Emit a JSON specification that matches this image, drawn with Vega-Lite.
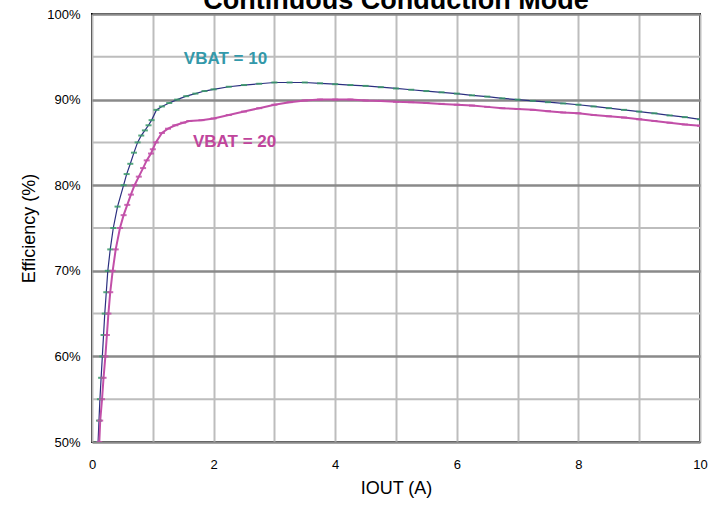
{
  "$schema": "https://vega.github.io/schema/vega-lite/v6.json",
  "autosize": {"type": "none"},
  "width": 608,
  "height": 428,
  "padding": {"left": 92, "top": 14, "right": 20, "bottom": 64},
  "background": "white",
  "title": {
    "text": "Continuous Conduction Mode",
    "font": "Liberation Sans",
    "fontSize": 27,
    "fontWeight": "bold",
    "color": "#000000",
    "anchor": "middle",
    "baseline": "alphabetic",
    "offset": 0,
    "dy": 28
  },
  "config": {
    "view": {"stroke": "#000000", "strokeWidth": 2},
    "font": "Liberation Sans"
  },
  "datasets": {
    "curves": [
      {"s":"10","i":0.10,"e":50},{"s":"10","i":0.115,"e":52.5},{"s":"10","i":0.13,"e":55},{"s":"10","i":0.15,"e":57.5},{"s":"10","i":0.17,"e":60},{"s":"10","i":0.19,"e":62.5},{"s":"10","i":0.21,"e":65},{"s":"10","i":0.235,"e":67.5},{"s":"10","i":0.26,"e":70},{"s":"10","i":0.30,"e":72.5},{"s":"10","i":0.35,"e":75},{"s":"10","i":0.42,"e":77.5},{"s":"10","i":0.52,"e":80},{"s":"10","i":0.57,"e":81.3},{"s":"10","i":0.63,"e":82.5},{"s":"10","i":0.69,"e":83.8},{"s":"10","i":0.75,"e":85},{"s":"10","i":0.81,"e":85.8},{"s":"10","i":0.87,"e":86.4},{"s":"10","i":0.93,"e":87.0},{"s":"10","i":0.98,"e":87.6},{"s":"10","i":1.06,"e":88.8},{"s":"10","i":1.15,"e":89.2},{"s":"10","i":1.27,"e":89.6},{"s":"10","i":1.4,"e":90.0},{"s":"10","i":1.55,"e":90.4},{"s":"10","i":1.7,"e":90.7},{"s":"10","i":1.85,"e":91.0},{"s":"10","i":2.0,"e":91.2},{"s":"10","i":2.25,"e":91.5},{"s":"10","i":2.5,"e":91.7},{"s":"10","i":2.75,"e":91.85},{"s":"10","i":3.0,"e":92.0},{"s":"10","i":3.25,"e":92.0},{"s":"10","i":3.5,"e":92.0},{"s":"10","i":3.75,"e":91.9},{"s":"10","i":4.0,"e":91.8},{"s":"10","i":4.25,"e":91.7},{"s":"10","i":4.5,"e":91.6},{"s":"10","i":4.75,"e":91.45},{"s":"10","i":5.0,"e":91.3},{"s":"10","i":5.25,"e":91.15},{"s":"10","i":5.5,"e":91.0},{"s":"10","i":5.75,"e":90.85},{"s":"10","i":6.0,"e":90.7},{"s":"10","i":6.25,"e":90.5},{"s":"10","i":6.5,"e":90.35},{"s":"10","i":6.75,"e":90.15},{"s":"10","i":7.0,"e":90.0},{"s":"10","i":7.25,"e":89.85},{"s":"10","i":7.5,"e":89.7},{"s":"10","i":7.75,"e":89.55},{"s":"10","i":8.0,"e":89.4},{"s":"10","i":8.25,"e":89.2},{"s":"10","i":8.5,"e":89.0},{"s":"10","i":8.75,"e":88.8},{"s":"10","i":9.0,"e":88.6},{"s":"10","i":9.25,"e":88.4},{"s":"10","i":9.5,"e":88.15},{"s":"10","i":9.75,"e":87.95},{"s":"10","i":10,"e":87.7},
      {"s":"20","i":0.12,"e":50},{"s":"20","i":0.135,"e":52.5},{"s":"20","i":0.165,"e":55},{"s":"20","i":0.19,"e":57.5},{"s":"20","i":0.22,"e":60},{"s":"20","i":0.245,"e":62.5},{"s":"20","i":0.27,"e":65},{"s":"20","i":0.30,"e":67.5},{"s":"20","i":0.34,"e":70},{"s":"20","i":0.39,"e":72.5},{"s":"20","i":0.46,"e":75},{"s":"20","i":0.52,"e":76.5},{"s":"20","i":0.58,"e":77.7},{"s":"20","i":0.64,"e":78.9},{"s":"20","i":0.70,"e":80},{"s":"20","i":0.77,"e":81},{"s":"20","i":0.84,"e":82},{"s":"20","i":0.90,"e":82.9},{"s":"20","i":0.97,"e":83.7},{"s":"20","i":1.0,"e":84.2},{"s":"20","i":1.05,"e":85.0},{"s":"20","i":1.15,"e":86.1},{"s":"20","i":1.25,"e":86.6},{"s":"20","i":1.37,"e":87.0},{"s":"20","i":1.5,"e":87.3},{"s":"20","i":1.6,"e":87.5},{"s":"20","i":1.8,"e":87.6},{"s":"20","i":2.0,"e":87.8},{"s":"20","i":2.25,"e":88.2},{"s":"20","i":2.5,"e":88.6},{"s":"20","i":2.75,"e":89.0},{"s":"20","i":3.0,"e":89.4},{"s":"20","i":3.25,"e":89.7},{"s":"20","i":3.5,"e":89.9},{"s":"20","i":3.75,"e":90.0},{"s":"20","i":4.0,"e":90.0},{"s":"20","i":4.25,"e":90.0},{"s":"20","i":4.5,"e":89.9},{"s":"20","i":4.75,"e":89.85},{"s":"20","i":5.0,"e":89.75},{"s":"20","i":5.25,"e":89.7},{"s":"20","i":5.5,"e":89.6},{"s":"20","i":5.75,"e":89.5},{"s":"20","i":6.0,"e":89.4},{"s":"20","i":6.25,"e":89.3},{"s":"20","i":6.5,"e":89.15},{"s":"20","i":6.75,"e":89.0},{"s":"20","i":7.0,"e":88.9},{"s":"20","i":7.25,"e":88.8},{"s":"20","i":7.5,"e":88.65},{"s":"20","i":7.75,"e":88.5},{"s":"20","i":8.0,"e":88.4},{"s":"20","i":8.25,"e":88.2},{"s":"20","i":8.5,"e":88.05},{"s":"20","i":8.75,"e":87.9},{"s":"20","i":9.0,"e":87.7},{"s":"20","i":9.25,"e":87.5},{"s":"20","i":9.5,"e":87.3},{"s":"20","i":9.75,"e":87.1},{"s":"20","i":10,"e":86.95}
    ],
    "minor": [{"p":55},{"p":65},{"p":75},{"p":85},{"p":95}],
    "labels": [
      {"s":"10","t":"VBAT = 10","i":1.51,"e":94.75},
      {"s":"20","t":"VBAT = 20","i":1.66,"e":85.0}
    ]
  },
  "encoding": {
    "x": {
      "field": "i", "type": "quantitative",
      "scale": {"domain": [0, 10], "nice": false, "zero": false},
      "axis": {
        "title": "IOUT (A)",
        "values": [0,1,2,3,4,5,6,7,8,9,10],
        "labelExpr": "datum.value % 2 == 0 ? datum.label : ''",
        "labelFlush": false,
        "grid": true, "gridColor": "#bdbdbd", "gridWidth": 2,
        "domain": false, "ticks": false,
        "labelFontSize": 13, "labelColor": "#000000", "labelPadding": 16,
        "labelFont": "Liberation Sans",
        "titleFontSize": 18, "titleFontWeight": "normal", "titleColor": "#000000",
        "titleFont": "Liberation Sans", "titlePadding": 8
      }
    },
    "y": {
      "field": "e", "type": "quantitative",
      "scale": {"domain": [50, 100], "nice": false, "zero": false},
      "axis": {
        "title": "Efficiency (%)",
        "values": [50,60,70,80,90,100],
        "labelExpr": "datum.value + '%'",
        "labelFlush": false,
        "grid": true, "gridColor": "#8a8a8a", "gridWidth": 2.5,
        "domain": false, "ticks": false,
        "labelFontSize": 13, "labelColor": "#000000", "labelPadding": 12,
        "labelFont": "Liberation Sans",
        "titleFontSize": 18, "titleFontWeight": "normal", "titleColor": "#000000",
        "titleFont": "Liberation Sans", "titlePadding": 8
      }
    }
  },
  "layer": [
    {
      "data": {"name": "minor"},
      "mark": {"type": "rule", "color": "#bdbdbd", "strokeWidth": 2},
      "encoding": {
        "x": null,
        "y": {"field": "p", "type": "quantitative"}
      }
    },
    {
      "data": {"name": "curves"},
      "mark": {"type": "line", "clip": true},
      "encoding": {
        "color": {"field": "s", "type": "nominal", "scale": {"domain": ["10","20"], "range": ["#2b2f80", "#c24fa8"]}, "legend": null},
        "strokeWidth": {"field": "s", "type": "nominal", "scale": {"domain": ["10","20"], "range": [1.2, 2]}, "legend": null}
      }
    },
    {
      "data": {"name": "curves"},
      "mark": {"type": "point", "shape": "stroke", "filled": false, "strokeWidth": 2, "size": 36, "opacity": 0.85, "clip": true},
      "encoding": {
        "color": {"field": "s", "type": "nominal", "scale": {"domain": ["10","20"], "range": ["#3a9a6a", "#c24fa8"]}, "legend": null}
      }
    },
    {
      "data": {"name": "labels"},
      "mark": {"type": "text", "align": "left", "baseline": "middle", "font": "Liberation Sans", "fontSize": 17, "fontWeight": "bold"},
      "encoding": {
        "text": {"field": "t"},
        "color": {"field": "s", "type": "nominal", "scale": {"domain": ["10","20"], "range": ["#3399aa", "#c0459c"]}, "legend": null}
      }
    }
  ],
  "resolve": {"scale": {"color": "independent"}}
}
